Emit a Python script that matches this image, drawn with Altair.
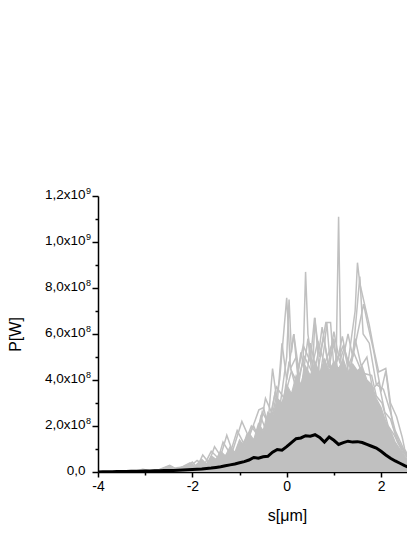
import altair as alt
import pandas as pd

FONT = "Liberation Sans"
GRAY = "#c0c0c0"

# ---- mean curve (black), P in units of 1e8 W ----
MEAN_S = [-4.0, -3.9, -3.8, -3.7, -3.6, -3.5, -3.4, -3.3, -3.2, -3.1, -3.0, -2.9, -2.8, -2.7,
          -2.6, -2.5, -2.4, -2.3, -2.2, -2.1, -2.0, -1.9, -1.8, -1.7, -1.6, -1.5, -1.4, -1.3,
          -1.2, -1.1, -1.0, -0.9, -0.8, -0.7, -0.6, -0.5, -0.4, -0.3, -0.2, -0.1, 0.0, 0.1,
          0.2, 0.3, 0.4, 0.5, 0.6, 0.7, 0.8, 0.9, 1.0, 1.1, 1.2, 1.3, 1.4, 1.5, 1.6, 1.7,
          1.8, 1.9, 2.0, 2.1, 2.2, 2.3, 2.4, 2.5, 2.6, 2.7, 2.8, 2.9, 3.0, 3.1, 3.2, 3.3,
          3.4, 3.5, 3.6, 3.7, 3.8, 3.9, 4.0]
MEAN_P = [0.00, 0.01, 0.01, 0.01, 0.02, 0.02, 0.02, 0.03, 0.03, 0.03, 0.04, 0.04, 0.05, 0.05,
          0.06, 0.06, 0.07, 0.08, 0.09, 0.10, 0.11, 0.12, 0.13, 0.15, 0.17, 0.20, 0.23, 0.27,
          0.31, 0.35, 0.40, 0.45, 0.52, 0.63, 0.60, 0.66, 0.68, 0.86, 0.98, 0.95, 1.10, 1.28,
          1.45, 1.48, 1.58, 1.56, 1.62, 1.50, 1.30, 1.52, 1.38, 1.20, 1.28, 1.34, 1.30, 1.32,
          1.28, 1.20, 1.12, 1.04, 0.90, 0.74, 0.60, 0.48, 0.38, 0.28, 0.19, 0.12, 0.08, 0.05,
          0.04, 0.03, 0.02, 0.02, 0.01, 0.01, 0.01, 0.01, 0.00, 0.00, 0.00]

# ---- dense band of single shots (upper edge) ----
ENV_S = [-4.0, -3.5, -3.2, -3.05, -2.9, -2.7, -2.48, -2.35, -2.2, -2.05, -1.95, -1.8, -1.7,
         -1.6, -1.5, -1.4, -1.3, -1.2, -1.1, -1.0, -0.9, -0.8, -0.7, -0.6, -0.5, -0.4, -0.3,
         -0.2, -0.1, 0.0, 0.1, 0.2, 0.3, 0.4, 0.5, 0.6, 0.7, 0.8, 0.9, 1.0, 1.1, 1.2, 1.3,
         1.4, 1.5, 1.6, 1.7, 1.8, 1.9, 2.0, 2.1, 2.2, 2.3, 2.4, 2.5, 2.6, 2.7, 2.8, 3.0,
         3.5, 4.0]
ENV_P = [0.0, 0.02, 0.05, 0.13, 0.06, 0.12, 0.30, 0.15, 0.25, 0.40, 0.25, 0.55, 0.35,
         0.70, 0.55, 0.90, 0.70, 1.10, 0.85, 1.40, 1.10, 1.70, 1.40, 2.10, 1.80, 2.60, 2.40,
         3.20, 3.00, 3.80, 3.40, 4.20, 3.80, 4.60, 4.20, 4.80, 4.30, 4.90, 4.40, 4.80, 4.50,
         4.90, 4.30, 4.70, 4.40, 4.60, 4.00, 3.80, 3.20, 2.80, 2.20, 1.80, 1.30, 1.00, 0.70,
         0.45, 0.25, 0.15, 0.08, 0.02, 0.0]

# ---- a few individual spiky shots ----
T1_S = [-0.2, -0.1, 0.0, 0.05, 0.1, 0.15, 0.25, 0.35, 0.4, 0.45, 0.55, 0.6, 0.7, 0.8, 0.85,
        0.95, 1.05, 1.1, 1.15, 1.25, 1.35, 1.45, 1.5, 1.55, 1.65, 1.75, 1.85, 1.95, 2.1, 2.2,
        2.33, 2.45, 2.5, 2.6, 2.7, 2.9]
T1_P = [2.0, 3.5, 5.0, 7.5, 5.2, 6.0, 3.8, 5.0, 8.7, 6.0, 4.5, 6.7, 4.0, 5.5, 6.5,
        4.0, 5.0, 11.1, 4.5, 4.0, 5.5, 7.0, 9.1, 8.2, 7.3, 6.4, 5.3, 4.35, 4.5, 3.0,
        2.4, 1.5, 1.0, 0.6, 0.25, 0.1]
T2_S = [-2.2, -2.0, -1.9, -1.78, -1.65, -1.53, -1.4, -1.27, -1.15, -0.95, -0.8, -0.59, -0.49,
        -0.4, -0.3, -0.2, -0.1, 0.0, 0.15, 0.25, 0.35, 0.5, 0.59, 0.7, 0.83, 0.93, 1.0, 1.2,
        1.35, 1.63, 1.72, 1.84, 2.0, 2.1, 2.25, 2.4, 2.6]
T2_P = [0.1, 0.43, 0.2, 0.74, 0.4, 1.1, 0.7, 1.6, 0.9, 2.2, 1.5, 2.7, 2.8,
        2.0, 4.5, 3.0, 5.6, 4.0, 6.0, 4.5, 5.5, 4.8, 6.7, 5.0, 6.5, 6.5, 4.5, 5.5,
        4.5, 7.3, 6.4, 5.3, 3.5, 4.4, 2.0, 1.2, 0.5]
T3_S = [-1.0, -0.7, -0.6, -0.45, -0.3, -0.15, 0.0, 0.08, 0.2, 0.3, 0.45, 0.55, 0.7, 0.75,
        0.9, 1.0, 1.1, 1.3, 1.4, 1.55, 1.62, 1.75, 1.9, 2.05, 2.2, 2.3, 2.5, 2.7]
T3_P = [1.0, 2.0, 1.5, 3.2, 2.5, 4.0, 7.57, 4.5, 5.0, 3.5, 5.8, 4.0, 5.5, 6.3,
        4.5, 5.8, 4.0, 6.0, 5.0, 8.5, 6.0, 5.6, 3.8, 3.6, 2.6, 1.8, 0.9, 0.3]
T4_S = [-1.5, -1.2, -1.0, -0.85, -0.7, -0.55, -0.4, -0.25, -0.1, 0.05, 0.2, 0.3, 0.42, 0.5,
        0.65, 0.78, 0.88, 1.0, 1.12, 1.22, 1.32, 1.45, 1.58, 1.7, 1.82, 1.95, 2.08, 2.2,
        2.35, 2.55, 2.75]
T4_P = [0.3, 0.9, 0.6, 1.6, 1.0, 2.4, 1.6, 3.4, 2.6, 4.8, 3.6, 5.2, 4.0, 5.6,
        4.2, 5.9, 4.6, 6.1, 4.8, 5.4, 4.2, 5.8, 4.6, 5.0, 3.6, 3.9, 2.6, 2.3,
        1.3, 0.7, 0.2]
T5_S = [-2.6, -2.3, -2.1, -1.9, -1.75, -1.6, -1.45, -1.35, -1.2, -1.05, -0.9, -0.75, -0.62,
        -0.52, -0.38, -0.22, -0.05, 0.1, 0.22, 0.38, 0.52, 0.66, 0.8, 0.97, 1.08, 1.18, 1.3,
        1.42, 1.6, 1.8, 1.9, 2.02, 2.15, 2.28, 2.45, 2.62, 2.8]
T5_P = [0.05, 0.2, 0.15, 0.5, 0.3, 0.9, 0.6, 1.3, 0.8, 1.8, 1.2, 2.0, 1.6,
        2.6, 2.1, 3.7, 3.2, 4.4, 3.9, 5.0, 4.4, 5.7, 4.7, 5.6, 4.9, 5.9, 4.6,
        5.2, 4.3, 4.2, 3.3, 3.0, 2.0, 1.6, 0.9, 0.5, 0.15]

# ---- axes ----
X_MAJOR = [-4, -2, 0, 2, 4]
X_LABELS = ["-4", "-2", "0", "2", "4"]
X_MINOR = [-3, -1, 1, 3]
Y_MAJOR = [0, 2, 4, 6, 8, 10, 12]
Y_LABELS = ["0,0", "2,0x10", "4,0x10", "6,0x10", "8,0x10", "1,0x10", "1,2x10"]
Y_EXP_AT = [2, 4, 6, 8, 10, 12]
Y_EXPS = ["8", "8", "8", "8", "9", "9"]
Y_MINOR = [1, 3, 5, 7, 9, 11]
X_VISIBLE = [-4, 2.55]   # the original figure is cropped at the right edge


def ternary(values, labels):
    expr = "''"
    for v, l in reversed(list(zip(values, labels))):
        expr = f"datum.value == {v} ? '{l}' : ({expr})"
    return expr


mean_df = pd.DataFrame({"s": MEAN_S, "P": MEAN_P})
env_df = pd.DataFrame({"s": ENV_S, "P": ENV_P})
shots_df = pd.concat([
    pd.DataFrame({"s": T1_S, "P": T1_P, "shot": "a"}),
    pd.DataFrame({"s": T2_S, "P": T2_P, "shot": "b"}),
    pd.DataFrame({"s": T3_S, "P": T3_P, "shot": "c"}),
    pd.DataFrame({"s": T4_S, "P": T4_P, "shot": "d"}),
    pd.DataFrame({"s": T5_S, "P": T5_P, "shot": "e"}),
], ignore_index=True)
exp_df = pd.DataFrame({"P": Y_EXP_AT, "e": Y_EXPS})

xscale = alt.Scale(domain=X_VISIBLE, nice=False, zero=False)
yscale = alt.Scale(domain=[0, 12], nice=False)

x_enc = alt.X("s:Q", scale=xscale, title="s[μm]",
              axis=alt.Axis(values=X_MAJOR, labelExpr=ternary(X_MAJOR, X_LABELS),
                            tickSize=5, tickWidth=1.5, domainWidth=1.5,
                            labelFontSize=14, labelPadding=2, labelFlush=False,
                            titleFontSize=16, titleFontWeight="normal",
                            titleX=189, titleAlign="center",
                            titleY=43, titleBaseline="middle", grid=False))
y_enc = alt.Y("P:Q", scale=yscale, title="P[W]",
              axis=alt.Axis(values=Y_MAJOR, labelExpr=ternary(Y_MAJOR, Y_LABELS),
                            tickSize=6, tickWidth=1.5, domainWidth=1.5,
                            labelFontSize=13.5, labelPadding=7, labelBaseline="middle",
                            labelOffset=-2, labelFlush=False,
                            titleFontSize=16, titleFontWeight="normal",
                            titleX=-83, titleY=138, titleAlign="center",
                            titleBaseline="middle", grid=False))

area = alt.Chart(env_df).mark_area(color=GRAY, opacity=1, clip=True,
                                   line={"color": GRAY, "strokeWidth": 1.2}).encode(
    x=x_enc, y=y_enc)
shots = alt.Chart(shots_df).mark_line(color=GRAY, strokeWidth=1.5, clip=True).encode(
    x=alt.X("s:Q", scale=xscale), y=alt.Y("P:Q", scale=yscale), detail="shot:N")
mean = alt.Chart(mean_df).mark_line(color="black", strokeWidth=3, clip=True).encode(
    x=alt.X("s:Q", scale=xscale), y=alt.Y("P:Q", scale=yscale))
exps = alt.Chart(exp_df).mark_text(align="left", baseline="alphabetic", fontSize=9,
                                   font=FONT, dy=-2, color="black").encode(
    x=alt.value(-12), y=alt.Y("P:Q", scale=yscale), text="e:N")

main = alt.layer(area, shots, mean, exps)

minor = alt.Chart(mean_df).mark_point(opacity=0).encode(
    x=alt.X("s:Q", scale=xscale, title=None,
            axis=alt.Axis(orient="bottom", values=X_MINOR, labels=False, tickSize=3,
                          tickWidth=1.5, domain=False, grid=False)),
    y=alt.Y("P:Q", scale=yscale, title=None,
            axis=alt.Axis(orient="left", values=Y_MINOR, labels=False, tickSize=3,
                          tickWidth=1.5, domain=False, grid=False)),
)

chart = alt.layer(main, minor).resolve_scale(x="independent", y="independent").properties(
    width=309, height=276,
    autosize=alt.AutoSizeParams(type="none"),
    padding={"left": 90, "top": 188, "right": 0, "bottom": 60},
).configure_view(stroke=None).configure_axis(
    labelFont=FONT, titleFont=FONT, labelColor="black", titleColor="black",
    domainColor="black", tickColor="black",
)

chart.save("out.html", embed_options={"renderer": "svg", "actions": False})
